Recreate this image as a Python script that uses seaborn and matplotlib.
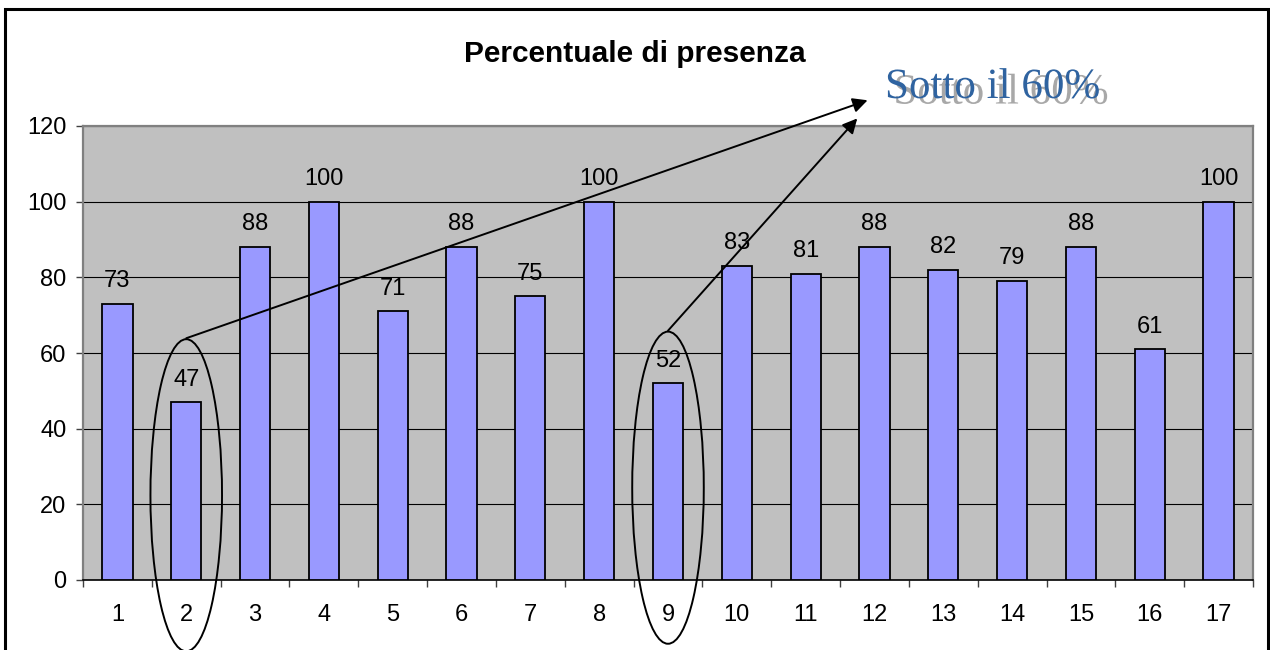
import matplotlib
matplotlib.use("Agg")
import matplotlib.pyplot as plt
import matplotlib.patheffects as pe
from matplotlib.patches import Ellipse, Rectangle, FancyArrowPatch
from matplotlib.ticker import FixedLocator
import seaborn as sns
import pandas as pd

# Attendance percentage per session
sessions = [str(i) for i in range(1, 18)]
presence = [73, 47, 88, 100, 71, 88, 75, 100, 52, 83, 81, 88, 82, 79, 88, 61, 100]
threshold_label = "Sotto il 60%"
highlighted = ["2", "9"]
title = "Percentuale di presenza"
y_ticks = [0, 20, 40, 60, 80, 100, 120]

df = pd.DataFrame({"sessione": sessions, "presenza": presence})

sns.set_theme(style="white")
plt.rcParams["font.family"] = ["Liberation Sans", "DejaVu Sans"]

fig = plt.figure(figsize=(12.7, 6.5), dpi=100)
fig.patch.set_facecolor("white")
ax = fig.add_axes([83 / 1270, 70 / 650, 1170 / 1270, 454 / 650])

sns.barplot(data=df, x="sessione", y="presenza", color="#9999FF", saturation=1,
            edgecolor="black", linewidth=1.3, width=0.44, ax=ax, zorder=3)

ax.set_facecolor("#C0C0C0")
ax.set_xlim(-0.5, len(sessions) - 0.5)
ax.set_ylim(0, 120)
ax.set_yticks(y_ticks)
ax.set_xlabel("")
ax.set_ylabel("")
ax.yaxis.grid(True, color="black", linewidth=0.8, zorder=1)
ax.set_axisbelow(True)

for side in ["top", "right", "left"]:
    ax.spines[side].set_color("#808080")
    ax.spines[side].set_linewidth(1.6)
ax.spines["bottom"].set_color("black")
ax.spines["bottom"].set_linewidth(1.2)

ax.tick_params(axis="y", which="major", direction="out", length=5, width=1,
               color="#404040", pad=7, labelsize=17, left=True)
ax.tick_params(axis="x", which="major", length=0, pad=17, labelsize=17)
ax.xaxis.set_minor_locator(FixedLocator([i - 0.5 for i in range(len(sessions) + 1)]))
ax.tick_params(axis="x", which="minor", direction="out", length=5, width=1,
               color="#404040", bottom=True)
for lbl in ax.get_xticklabels() + ax.get_yticklabels():
    lbl.set_color("black")

# Value labels above each bar
for i, v in enumerate(presence):
    ax.annotate(f"{v}", (i, v), xytext=(0, 12), textcoords="offset points",
                ha="center", va="baseline", fontsize=17, color="black", zorder=5)

fig.text(0.5, (650 - 62) / 650, title, ha="center", va="baseline",
         fontsize=21.5, fontweight="bold", color="black")

# Callout text with a grey drop shadow
tx, ty = 885 / 1270, (650 - 98) / 650
fig.text(tx, ty, threshold_label, fontsize=31,
         family=["DejaVu Serif Condensed", "Liberation Serif"], color="#2F63A0",
         ha="left", va="baseline",
         path_effects=[pe.SimplePatchShadow(offset=(6, -4), shadow_rgbFace="#A8A8A8",
                                            alpha=1.0),
                       pe.Normal()])

# Ellipses around the sessions below 60% and arrows to the callout
arrow_tips = [(10.9, 126.8), (10.75, 122.0)]
ell_centers = [22.4, 24.4]
for cat, cy, tip in zip(highlighted, ell_centers, arrow_tips):
    xi = sessions.index(cat)
    ell = Ellipse((xi, cy), width=1.04, height=82.5, fill=False,
                  edgecolor="black", linewidth=1.4, clip_on=False, zorder=6)
    ax.add_patch(ell)
    arr = FancyArrowPatch((xi, cy + 41.5), tip, arrowstyle="-|>",
                          mutation_scale=22, color="black", linewidth=1.4,
                          shrinkA=0, shrinkB=0, clip_on=False, zorder=6)
    ax.add_patch(arr)

# Outer chart frame
fig.patches.append(Rectangle((5 / 1270, -0.05), 1263 / 1270, (641 / 650) + 0.05,
                             transform=fig.transFigure, fill=False,
                             edgecolor="black", linewidth=2.2, zorder=10))

fig.savefig("out.png", dpi=100)
